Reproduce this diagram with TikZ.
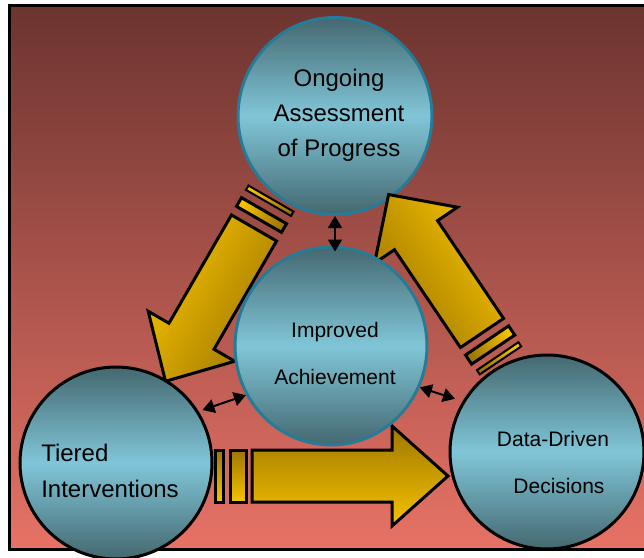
\documentclass[tikz,border=0pt]{standalone}
\usepackage{fontspec}
\setmainfont{Liberation Sans}
\usetikzlibrary{arrows.meta,shapes.geometric,positioning}
\definecolor{bgtop}{RGB}{108,52,48}
\definecolor{bgmid}{RGB}{184,88,82}
\definecolor{bgbot}{RGB}{231,114,102}
\definecolor{cyandark}{RGB}{68,104,112}
\definecolor{cyanlight}{RGB}{128,198,216}
\definecolor{tealrim}{RGB}{38,124,150}
\definecolor{goldlight}{RGB}{246,194,0}
\definecolor{golddark}{RGB}{158,118,0}

\tikzset{
  bubble/.style={ellipse,inner sep=0pt,line width=1.5pt,
    top color=cyandark,bottom color=cyandark,middle color=cyanlight},
  rimteal/.style={bubble,draw=tealrim},
  rimblack/.style={bubble,draw=black},
  blockarrow/.style={draw=black,line width=1.5pt,
    top color=goldlight,bottom color=golddark,shading angle=#1},
  link/.style={<->,line width=1pt},
  txtbig/.style={font=\fontsize{12}{17.5}\selectfont,align=center},
  txtsmall/.style={font=\fontsize{10.5}{23.5}\selectfont,align=center},
}

\begin{document}
\begin{tikzpicture}[x=0.5pt,y=-0.5pt,>={Triangle[length=6pt,width=7pt]}]
  \useasboundingbox (0,0) rectangle (644,558);
  \clip (0,0) rectangle (644,558);
  % backdrop panel, runs off the right edge
  \shade[top color=bgtop,middle color=bgmid,bottom color=bgbot,draw=black,line width=1.5pt]
    (9.5,5.5) rectangle (670,549);

  % upper bubble sits under the arrows
  \node[rimteal,minimum width=97pt,minimum height=98.5pt] (assess) at (335,116) {};

  % cycle arrows: assessment -> interventions
  \begin{scope}[shift={(254,228)},rotate=240]
    \shade[blockarrow=60]
      (0,-26) -- (125,-26) -- (125,-50) -- (177,0) -- (125,50) -- (125,26) -- (0,26) -- cycle;
    \shade[blockarrow=60] (-20,-26) rectangle (-10,26);
    \shade[blockarrow=60,line width=1pt] (-34,-26) rectangle (-29,26);
  \end{scope}
  % interventions -> decisions
  \begin{scope}[shift={(252,476)}]
    \shade[blockarrow=180]
      (0,-26) -- (140,-26) -- (140,-50) -- (196,0) -- (140,50) -- (140,26) -- (0,26) -- cycle;
    \shade[blockarrow=180] (-22,-26) rectangle (-6,26);
    \shade[blockarrow=180] (-37,-26) rectangle (-29,26);
  \end{scope}
  % decisions -> assessment
  \begin{scope}[shift={(482,333)},rotate=124]
    \shade[blockarrow=-56]
      (0,-26) -- (118,-26) -- (118,-50) -- (167,0) -- (118,50) -- (118,26) -- (0,26) -- cycle;
    \shade[blockarrow=-56] (-20,-26) rectangle (-9,26);
    \shade[blockarrow=-56,line width=1pt] (-33,-25) rectangle (-28,25);
  \end{scope}

  % the other three bubbles
  \node[rimteal,minimum width=96pt,minimum height=99pt] (achieve) at (331,346) {};
  \node[rimblack,minimum width=96pt,minimum height=96pt] (tier) at (116,463) {};
  \node[rimblack,minimum width=97pt,minimum height=97pt] (data) at (547,452) {};

  % two-way links to the centre
  \draw[link,shorten >=-3pt] (assess.south) -- (assess.south |- achieve.north);
  \draw[link,shorten <=2pt] (tier.32) -- (achieve.210);
  \draw[link,shorten >=4pt] (achieve.-25) -- (data.149);

  % labels
  \node[txtbig] (assesstxt) at ([shift={(4,-1)}]assess.center) {Ongoing\\Assessment\\of Progress};
  \node[txtsmall] (achievetxt) at ([shift={(4,7)}]achieve.center) {Improved\\Achievement};
  \node[font=\fontsize{12}{18}\selectfont,align=left] (tiertxt) at ([shift={(-6,8)}]tier.center) {Tiered\\Interventions};
  \node[txtsmall] (datatxt) at ([shift={(6,10)}]data.center) {Data-Driven\\\hspace*{6pt}Decisions};
\end{tikzpicture}
\end{document}
